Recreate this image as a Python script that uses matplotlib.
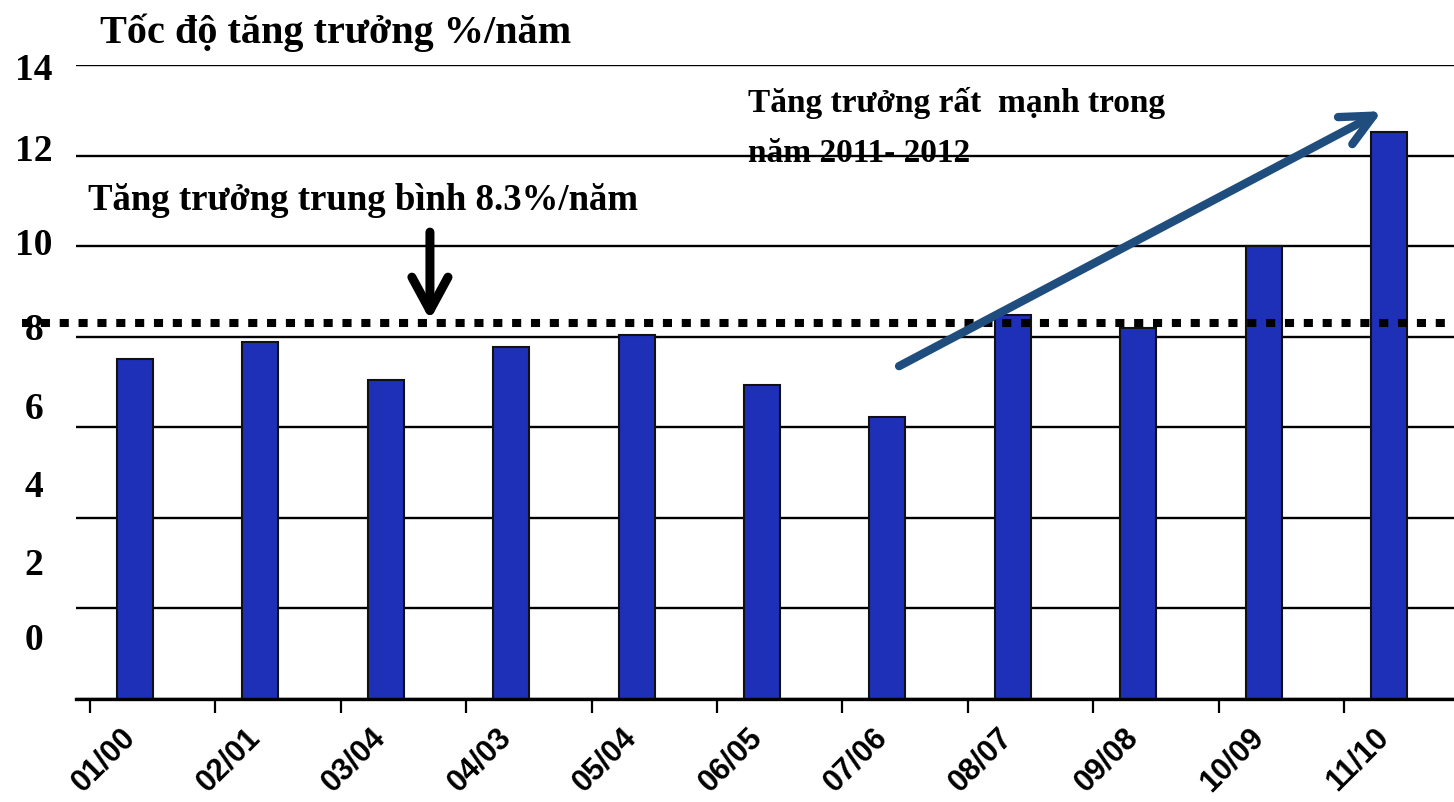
import matplotlib
matplotlib.use("Agg")
import matplotlib.pyplot as plt
from matplotlib.transforms import blended_transform_factory, ScaledTranslation
import numpy as np

# ---------------- data ----------------
categories = ["01/00", "02/01", "03/04", "04/03", "05/04", "06/05",
              "07/06", "08/07", "09/08", "10/09", "11/10"]
growth = [7.51, 7.88, 7.04, 7.77, 8.04, 6.93, 6.23, 8.48, 8.19, 10.0, 12.52]
average_growth = 8.3
ytick_values = [0, 2, 4, 6, 8, 10, 12, 14]
ytick_labels = ["0", "2", "4", "6", "8", "10", "12", "14"]

title_text = "Tốc độ tăng trưởng %/năm"
avg_text = "Tăng trưởng trung bình 8.3%/năm"
strong_line1 = "Tăng trưởng rất  mạnh trong"
strong_line2 = "năm 2011- 2012"

# ---------------- layout ----------------
W, H = 1454, 802
fig = plt.figure(figsize=(W / 100, H / 100), dpi=100)
fig.patch.set_facecolor("white")

ax_left, ax_right, ax_top, ax_bottom = 76, 1454, 65, 699
ax = fig.add_axes([ax_left / W, 1 - ax_bottom / H,
                   (ax_right - ax_left) / W, (ax_bottom - ax_top) / H])

step_px = 125.4
first_center_px = 135
x = np.arange(len(categories))
x_left = -(first_center_px - ax_left) / step_px
x_right = x_left + (ax_right - ax_left) / step_px
ax.set_xlim(x_left, x_right)
ax.set_ylim(0, 14)

bar_color = "#1E30B8"
ax.bar(x, growth, width=36 / step_px, color=bar_color, edgecolor="#111111",
       linewidth=1.5, zorder=2)

# gridlines
ax.set_yticks(ytick_values)
ax.yaxis.grid(True, color="black", linewidth=1.7)
ax.set_axisbelow(True)
ax.tick_params(axis="y", left=False, labelleft=False)

for s in ["top", "right", "left"]:
    ax.spines[s].set_visible(False)
ax.spines["bottom"].set_linewidth(2.4)
ax.spines["bottom"].set_color("black")

# x ticks: marks offset from bars, labels at bar centers
tick_offset = (first_center_px - 90) / step_px
ax.set_xticks(x - tick_offset)
ax.set_xticklabels([])
ax.tick_params(axis="x", which="major", length=10, width=1.6, color="black",
               direction="out")
ax.set_xticks(x, minor=True)
ax.set_xticklabels(categories, minor=True, rotation=45, ha="right",
                   fontsize=22, fontweight="bold", family="Liberation Sans")
ax.tick_params(axis="x", which="minor", length=0, pad=17)
shift = ScaledTranslation(6 / 100, 0, fig.dpi_scale_trans)
for lab in ax.get_xticklabels(minor=True):
    lab.set_transform(lab.get_transform() + shift)

# y labels (placed as in the reference, not aligned with the gridlines)
ylabel_px = [637, 562, 484, 406, 327, 242, 148, 67]
for lab, py in zip(ytick_labels, ylabel_px):
    fig.text(34 / W, 1 - (py + 13) / H, lab, ha="center", va="baseline",
             fontsize=27, fontweight="bold", family="Liberation Serif")

# average dotted line
tr = blended_transform_factory(fig.transFigure, ax.transData)
ax.plot([22 / W, 1.0], [average_growth, average_growth], transform=tr,
        color="black", linewidth=5.8, linestyle=(0, (1.13, 1.21)),
        dash_capstyle="butt", clip_on=False, zorder=4)

# black arrow pointing at average line
ax.annotate("", xy=(2.352, 8.37), xytext=(2.352, 10.31),
            arrowprops=dict(arrowstyle="->,head_length=24,head_width=13",
                            lw=6.5, color="black", shrinkA=0, shrinkB=0,
                            mutation_scale=1, capstyle="round"),
            zorder=5, annotation_clip=False)

# blue trend arrow
ax.annotate("", xy=(9.944, 12.98), xytext=(6.093, 7.35),
            arrowprops=dict(arrowstyle="->,head_length=23,head_width=11",
                            lw=6.0, color="#1F4E7E", shrinkA=0, shrinkB=0,
                            mutation_scale=1, capstyle="round"),
            zorder=5, annotation_clip=False)

serif_bold = dict(fontweight="bold", family="Liberation Serif", color="black")
fig.text(100 / W, 1 - 43 / H, title_text, ha="left", va="baseline",
         fontsize=29, **serif_bold)
fig.text(88 / W, 1 - 210 / H, avg_text, ha="left", va="baseline",
         fontsize=26.5, **serif_bold)
fig.text(748 / W, 1 - 112 / H, strong_line1, ha="left", va="baseline",
         fontsize=24, **serif_bold)
fig.text(748 / W, 1 - 162 / H, strong_line2, ha="left", va="baseline",
         fontsize=24, **serif_bold)

fig.savefig("out.png", dpi=100, facecolor="white")
